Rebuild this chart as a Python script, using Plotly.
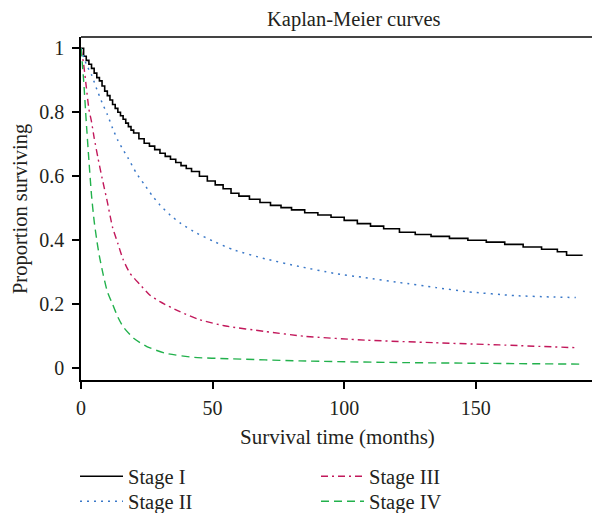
import plotly.graph_objects as go

# ---- data ----
stage1_t = [0, 1, 2, 3, 4, 5, 6, 7, 8, 9, 10, 11, 12, 13, 14, 15, 16, 17, 18, 19, 20,
            22, 24, 26, 28, 30, 32, 34, 36, 38, 40, 42, 45, 48, 51, 54, 57, 60, 64, 68,
            72, 76, 80, 85, 90, 95, 100, 105, 110, 115, 121, 127, 133, 140, 147, 154,
            161, 168, 175, 181, 184.5, 190.6]
stage1_s = [1.0, 0.975, 0.962, 0.950, 0.937, 0.922, 0.908, 0.898, 0.882, 0.866, 0.852,
            0.838, 0.824, 0.812, 0.800, 0.789, 0.778, 0.766, 0.755, 0.744, 0.735,
            0.717, 0.703, 0.694, 0.683, 0.672, 0.662, 0.653, 0.643, 0.633, 0.624, 0.615,
            0.600, 0.585, 0.573, 0.561, 0.547, 0.538, 0.528, 0.518, 0.509, 0.502, 0.495,
            0.486, 0.479, 0.472, 0.462, 0.452, 0.444, 0.436, 0.425, 0.418, 0.412, 0.406,
            0.400, 0.394, 0.387, 0.379, 0.372, 0.364, 0.353, 0.353]

stage2_t = [0, 2, 4, 6, 8, 10, 12, 14, 16, 18, 21, 24, 27, 30, 34, 38, 44, 50, 58, 70,
            83, 96, 108, 121, 135, 147, 165, 178, 188]
stage2_s = [1.0, 0.95, 0.917, 0.872, 0.83, 0.793, 0.75, 0.712, 0.683, 0.655, 0.61, 0.575,
            0.54, 0.51, 0.478, 0.452, 0.422, 0.398, 0.37, 0.342, 0.318, 0.297, 0.283,
            0.268, 0.252, 0.239, 0.227, 0.223, 0.221]

stage3_t = [0, 1, 2, 3, 4, 5, 6.5, 8, 10, 12, 14, 16, 18.6, 22.4, 26, 30, 37.6, 45, 55,
            70, 85, 108, 134, 159, 189]
stage3_s = [1.0, 0.95, 0.88, 0.81, 0.77, 0.72, 0.655, 0.595, 0.52, 0.44, 0.39, 0.34,
            0.297, 0.262, 0.23, 0.208, 0.177, 0.152, 0.132, 0.115, 0.1, 0.088, 0.08,
            0.073, 0.064]

stage4_t = [0, 1, 2, 3, 4, 5, 6, 7, 8.5, 10, 12, 14, 16, 20, 25, 32, 43, 56, 83, 120,
            160, 190.2]
stage4_s = [1.0, 0.9, 0.77, 0.65, 0.54, 0.46, 0.40, 0.35, 0.29, 0.24, 0.20, 0.16, 0.13,
            0.094, 0.068, 0.047, 0.034, 0.03, 0.023, 0.018, 0.015, 0.013]

x_ticks = [0, 50, 100, 150]
y_ticks = [0, 0.2, 0.4, 0.6, 0.8, 1]
y_tick_labels = ["0", "0.2", "0.4", "0.6", "0.8", "1"]

FONT = "Liberation Serif, Times New Roman, serif"
TXT = "#231f20"

fig = go.Figure()
fig.add_trace(go.Scatter(x=stage1_t, y=stage1_s, mode="lines", name="Stage I",
                         line=dict(color="black", width=1.6, shape="hv"),
                         legend="legend", legendrank=1))
fig.add_trace(go.Scatter(x=stage3_t, y=stage3_s, mode="lines", name="Stage III",
                         line=dict(color="#c2185b", width=1.4, dash="7px,4px,2px,4px",
                                   shape="spline", smoothing=0.6),
                         legend="legend", legendrank=2))
fig.add_trace(go.Scatter(x=stage2_t, y=stage2_s, mode="lines", name="Stage II",
                         line=dict(color="#3a78c8", width=1.5, dash="2px,5px",
                                   shape="spline", smoothing=0.6),
                         legend="legend2", legendrank=3))
fig.add_trace(go.Scatter(x=stage4_t, y=stage4_s, mode="lines", name="Stage IV",
                         line=dict(color="#22b14c", width=1.4, dash="8px,5px",
                                   shape="spline", smoothing=0.6),
                         legend="legend2", legendrank=4))

legend_common = dict(orientation="h", xref="container", yref="container",
                     x=0.1132, xanchor="left", yanchor="top",
                     itemwidth=43, entrywidth=183, entrywidthmode="pixels",
                     traceorder="normal",
                     font=dict(family=FONT, size=20.5, color=TXT),
                     bgcolor="rgba(0,0,0,0)")

# page body has an 8px default margin, so the figure is sized 592x505
fig.update_layout(
    width=592, height=505,
    margin=dict(l=73, r=0, t=29, b=133, autoexpand=False),
    paper_bgcolor="white", plot_bgcolor="white",
    font=dict(family=FONT, size=20, color=TXT),
    showlegend=True,
    legend=dict(legend_common, y=0.1121),
    legend2=dict(legend_common, y=0.0626),
    xaxis=dict(range=[0, 197.2], tickvals=x_ticks, showgrid=False, zeroline=False,
               automargin=False,
               showline=True, linecolor="black", linewidth=1.5,
               ticks="outside", ticklen=7, tickwidth=1.5, tickcolor="black",
               ticklabelstandoff=2,
               tickfont=dict(family=FONT, size=20, color=TXT)),
    yaxis=dict(range=[-0.0366, 1.035], tickvals=y_ticks, ticktext=y_tick_labels,
               showgrid=False, zeroline=False, automargin=False,
               showline=True, linecolor="black", linewidth=1.5,
               ticks="outside", ticklen=7, tickwidth=1.5, tickcolor="black",
               ticklabelstandoff=4,
               tickfont=dict(family=FONT, size=20, color=TXT)),
    shapes=[dict(type="line", xref="paper", yref="paper", x0=0, x1=1, y0=1, y1=1,
                 line=dict(color="#444", width=2))],
    annotations=[
        dict(text="Kaplan-Meier curves", xref="paper", yref="paper",
             x=0.526, y=1.0496, yanchor="middle", xanchor="center",
             showarrow=False, font=dict(family=FONT, size=20.5, color=TXT)),
        dict(text="Survival time (months)", xref="paper", yref="paper",
             x=0.495, y=-0.166, yanchor="middle", xanchor="center",
             showarrow=False, font=dict(family=FONT, size=21, color=TXT)),
        dict(text="Proportion surviving", xref="paper", yref="paper",
             x=-0.1175, y=0.4985, yanchor="middle", xanchor="center", textangle=-90,
             borderpad=0,
             showarrow=False, font=dict(family=FONT, size=20.5, color=TXT)),
    ],
)

fig.write_html("out.html")
